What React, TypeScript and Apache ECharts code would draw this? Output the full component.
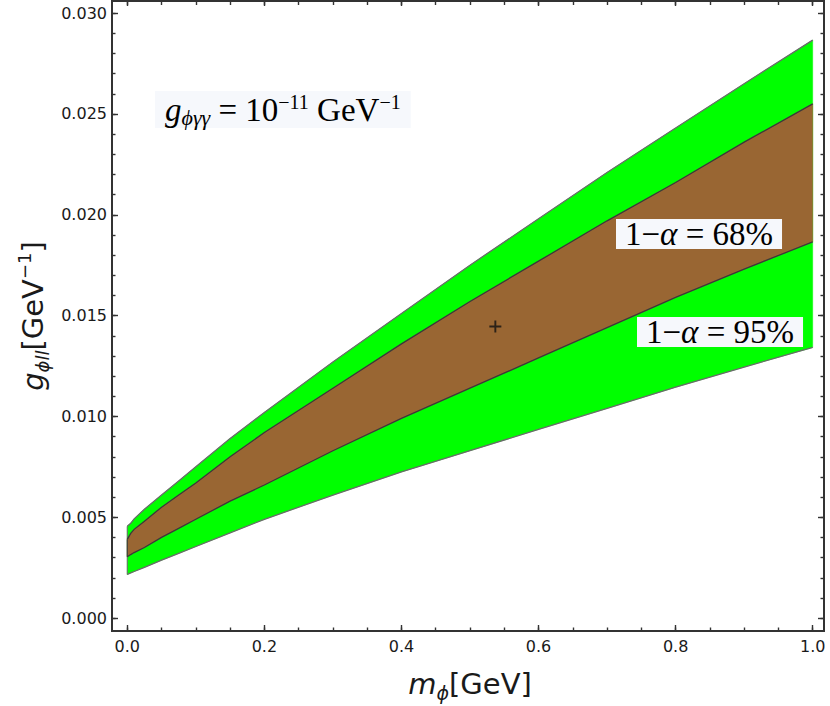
import React, { useEffect, useRef } from "react";
import * as echarts from "echarts";

// ---- data ----
const massGeV = [0, 0.005, 0.01, 0.025, 0.05, 0.075, 0.1, 0.15, 0.2, 0.3, 0.4, 0.5, 0.6, 0.7, 0.8, 0.9, 1.0];
const upper95 = [0.00455, 0.0047, 0.00492, 0.0054, 0.0061, 0.0068, 0.0075, 0.0089, 0.0102, 0.0127, 0.0151, 0.0175, 0.0198, 0.0221, 0.0243, 0.0265, 0.02866];
const upper68 = [0.0039, 0.0042, 0.0044, 0.0048, 0.0055, 0.0061, 0.0067, 0.008, 0.0092, 0.0114, 0.0136, 0.0157, 0.0177, 0.0197, 0.0216, 0.0236, 0.0255];
const lower68 = [0.00304, 0.00315, 0.00325, 0.0035, 0.004, 0.00445, 0.0049, 0.0058, 0.0066, 0.0083, 0.0099, 0.0114, 0.0129, 0.0144, 0.0159, 0.0173, 0.01866];
const lower95 = [0.00216, 0.00224, 0.00231, 0.00252, 0.00287, 0.00321, 0.00355, 0.00423, 0.0049, 0.0061, 0.00725, 0.0083, 0.00936, 0.0104, 0.01145, 0.01245, 0.01342];
const bestFit = [[0.537, 0.01446]];

const xMajorTicks = [0, 0.2, 0.4, 0.6, 0.8, 1.0];
const xMinorTicks = [0, 0.05, 0.1, 0.15, 0.2, 0.25, 0.3, 0.35, 0.4, 0.45, 0.5, 0.55, 0.6, 0.65, 0.7, 0.75, 0.8, 0.85, 0.9, 0.95, 1.0];
const yMajorTicks = [0, 0.005, 0.01, 0.015, 0.02, 0.025, 0.03];
const yMinorTicks = [
  0, 0.001, 0.002, 0.003, 0.004, 0.005, 0.006, 0.007, 0.008, 0.009, 0.01,
  0.011, 0.012, 0.013, 0.014, 0.015, 0.016, 0.017, 0.018, 0.019, 0.02,
  0.021, 0.022, 0.023, 0.024, 0.025, 0.026, 0.027, 0.028, 0.029, 0.03,
];

const X_MIN = -0.0223;
const X_MAX = 1.0165;
const Y_MIN = -0.00064;
const Y_MAX = 0.0306;

const FRAME = "#333333";
const SANS = "DejaVu Sans";
const SERIF = "Liberation Serif";
const BOX_BG = "#F6F8FC";

function bandItem(upper: number[], lower: number[], fill: string, edge: string, api: any) {
  const top = massGeV.map((x, i) => api.coord([x, upper[i]]));
  const bottom = massGeV.map((x, i) => api.coord([x, lower[i]]));
  const poly = top.concat(bottom.slice().reverse());
  return {
    type: "group",
    children: [
      { type: "polygon", shape: { points: poly }, style: { fill, stroke: fill, lineWidth: 0.5 } },
      { type: "polyline", shape: { points: top }, style: { fill: "none", stroke: edge, lineWidth: 1.3 } },
      { type: "polyline", shape: { points: bottom }, style: { fill: "none", stroke: edge, lineWidth: 1.3 } },
      {
        type: "line",
        shape: { x1: top[0][0], y1: top[0][1], x2: bottom[0][0], y2: bottom[0][1] },
        style: { stroke: edge, lineWidth: 1 },
      },
    ],
  };
}

function makeXAxis(position: string, values: number[], len: number, labels: boolean) {
  return {
    type: "value",
    position,
    min: X_MIN,
    max: X_MAX,
    axisLine: { show: false, onZero: false },
    splitLine: { show: false },
    axisTick: { show: true, inside: true, length: len, customValues: values, lineStyle: { color: FRAME, width: 1.4 } },
    axisLabel: labels
      ? {
          show: true,
          customValues: values,
          margin: 7,
          color: "#1a1a1a",
          fontFamily: SANS,
          fontSize: 16,
          formatter: (v: number) => v.toFixed(1),
        }
      : { show: false },
  };
}

function makeYAxis(position: string, values: number[], len: number, labels: boolean) {
  return {
    type: "value",
    position,
    min: Y_MIN,
    max: Y_MAX,
    axisLine: { show: false, onZero: false },
    splitLine: { show: false },
    axisTick: { show: true, inside: true, length: len, customValues: values, lineStyle: { color: FRAME, width: 1.4 } },
    axisLabel: labels
      ? {
          show: true,
          customValues: values,
          margin: 5,
          color: "#1a1a1a",
          fontFamily: SANS,
          fontSize: 16,
          formatter: (v: number) => v.toFixed(3),
        }
      : { show: false },
  };
}

const serifLabelRich = {
  n: { fontFamily: SERIF, fontSize: 33, lineHeight: 30, verticalAlign: "middle", fill: "#000" },
  a: { fontFamily: SERIF, fontStyle: "italic", fontSize: 33, lineHeight: 30, verticalAlign: "middle", fill: "#000" },
};

export default function App() {
  const ref = useRef<HTMLDivElement>(null);

  useEffect(() => {
    if (!ref.current) return;
    const chart = echarts.init(ref.current, undefined, { renderer: "svg" });

    const option: any = {
      animation: false,
      backgroundColor: "#ffffff",
      grid: {
        left: 112,
        right: 6,
        top: 1,
        bottom: 75,
        show: true,
        borderColor: FRAME,
        borderWidth: 2,
        backgroundColor: "transparent",
      },
      xAxis: [
        makeXAxis("bottom", xMajorTicks, 6, true),
        makeXAxis("bottom", xMinorTicks, 3.5, false),
        makeXAxis("top", xMajorTicks, 5, false),
        makeXAxis("top", xMinorTicks, 4, false),
      ],
      yAxis: [
        makeYAxis("left", yMajorTicks, 6, true),
        makeYAxis("left", yMinorTicks, 3.5, false),
        makeYAxis("right", yMajorTicks, 6, false),
        makeYAxis("right", yMinorTicks, 3.5, false),
      ],
      series: [
        {
          type: "custom",
          name: "95%",
          xAxisIndex: 0,
          yAxisIndex: 0,
          data: [[0, 0]],
          silent: true,
          renderItem: (_p: any, api: any) => bandItem(upper95, lower95, "#00FF00", "#6a6a6a", api),
        },
        {
          type: "custom",
          name: "68%",
          xAxisIndex: 0,
          yAxisIndex: 0,
          data: [[0, 0]],
          silent: true,
          renderItem: (_p: any, api: any) => bandItem(upper68, lower68, "#996633", "#3a3a3a", api),
        },
        {
          type: "scatter",
          name: "best fit",
          xAxisIndex: 0,
          yAxisIndex: 0,
          data: bestFit,
          symbol: "path://M4.2,0H5.8V4.2H10V5.8H5.8V10H4.2V5.8H0V4.2H4.2Z",
          symbolSize: 12,
          itemStyle: { color: "#111111" },
          silent: true,
        },
      ],
      graphic: [
        {
          type: "text",
          x: 33,
          y: 316,
          z: 100,
          rotation: Math.PI / 2,
          style: {
            text: "{g|g}{s|ϕll}{n|[GeV}{p|−1}{n|]}",
            align: "center",
            verticalAlign: "middle",
            rich: {
              g: { fontFamily: SANS, fontStyle: "italic", fontSize: 29, lineHeight: 36, verticalAlign: "middle", fill: "#1a1a1a" },
              s: { fontFamily: SANS, fontStyle: "italic", fontSize: 18, lineHeight: 16, verticalAlign: "bottom", fill: "#1a1a1a" },
              n: { fontFamily: SANS, fontSize: 29, lineHeight: 36, verticalAlign: "middle", fill: "#1a1a1a" },
              p: { fontFamily: SANS, fontSize: 18, lineHeight: 14, verticalAlign: "top", fill: "#1a1a1a" },
            },
          },
        },
        {
          type: "text",
          x: 470,
          y: 684,
          z: 100,
          style: {
            text: "{m|m}{s|ϕ}{n|[GeV]}",
            align: "center",
            verticalAlign: "middle",
            rich: {
              m: { fontFamily: SANS, fontStyle: "italic", fontSize: 29, lineHeight: 36, verticalAlign: "middle", fill: "#1a1a1a" },
              s: { fontFamily: SANS, fontStyle: "italic", fontSize: 19, lineHeight: 16, verticalAlign: "bottom", fill: "#1a1a1a" },
              n: { fontFamily: SANS, fontSize: 29, lineHeight: 36, verticalAlign: "middle", fill: "#1a1a1a" },
            },
          },
        },
        {
          type: "text",
          x: 155,
          y: 91,
          z: 100,
          style: {
            text: "{g|g}{s|ϕγγ}{n| = 10}{p|−11}{n| GeV}{p|−1}",
            align: "left",
            verticalAlign: "top",
            backgroundColor: BOX_BG,
            padding: [1, 10, 0, 10],
            rich: {
              g: { fontFamily: SERIF, fontStyle: "italic", fontSize: 33, lineHeight: 36, verticalAlign: "middle", fill: "#000" },
              s: { fontFamily: SERIF, fontStyle: "italic", fontSize: 22, lineHeight: 16, verticalAlign: "bottom", fill: "#000" },
              n: { fontFamily: SERIF, fontSize: 33, lineHeight: 36, verticalAlign: "middle", fill: "#000" },
              p: { fontFamily: SERIF, fontSize: 20, lineHeight: 24, verticalAlign: "top", fill: "#000" },
            },
          },
        },
        {
          type: "text",
          x: 616,
          y: 219,
          z: 100,
          style: {
            text: "{n|1−}{a|α}{n| = 68%}",
            align: "left",
            verticalAlign: "top",
            backgroundColor: BOX_BG,
            padding: [0, 9, 0, 9],
            rich: serifLabelRich,
          },
        },
        {
          type: "text",
          x: 637,
          y: 317,
          z: 100,
          style: {
            text: "{n|1−}{a|α}{n| = 95%}",
            align: "left",
            verticalAlign: "top",
            backgroundColor: BOX_BG,
            padding: [0, 9, 0, 9],
            rich: serifLabelRich,
          },
        },
      ],
    };

    chart.setOption(option);
    return () => chart.dispose();
  }, []);

  return (
    <div
      ref={ref}
      style={{ position: "absolute", left: 0, top: 0, width: 830, height: 706, background: "#fff" }}
    />
  );
}
